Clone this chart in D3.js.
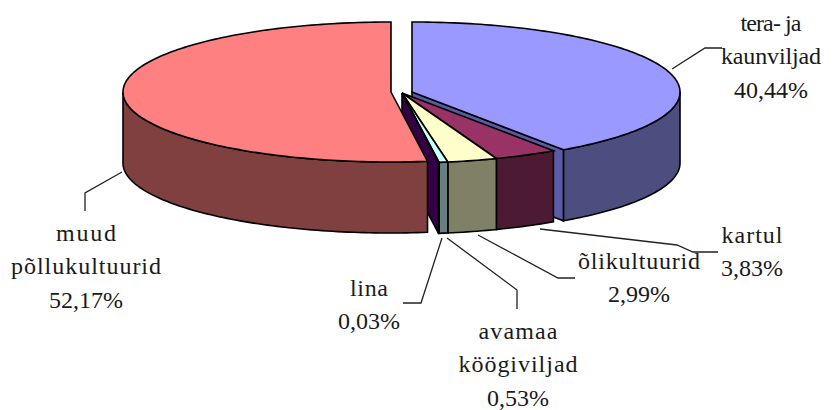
<!DOCTYPE html>
<html><head><meta charset="utf-8">
<script src="https://cdn.jsdelivr.net/npm/d3@7"></script>
<style>html,body{margin:0;padding:0;background:#fff}svg{display:block}
text{font-family:"Liberation Serif","Times New Roman",serif;font-size:24px;fill:#1a1a1a;text-anchor:middle}</style>
</head><body><svg id="c" width="835" height="410"></svg>
<script>
// data
const categories = ["tera- ja kaunviljad","kartul","õlikultuurid","avamaa köögiviljad","lina","muud põllukultuurid"];
const shares = [40.44,3.83,2.99,0.53,0.03,52.17];
const valueLabels = ["40,44%","3,83%","2,99%","0,53%","0,03%","52,17%"];
const topColors = ["#9999ff","#993366","#ffffcc","#ccffff","#330066","#ff8080"];
const sideColors = ["#4d4d80","#4d1a33","#808066","#668080","#1a0033","#804040"];
const endWallColors = ["#5a5aa6",null,null,null,"#330044",null];

// layout
const rx = 268, ry = 70, depth = 71;
const centers = [[412,92],[402,93],[402,93],[402,93],[402,93],[391,92]];
const labelLines = [["tera- ja","kaunviljad"],["kartul"],["õlikultuurid"],["avamaa","köögiviljad"],["lina"],["muud","põllukultuurid"]];
const labelWidths = [[61,100],[61],[122],[79,119],[38],[60,150]];
const labelPos = [[771,31],[752,243],[639,269],[518,339],[369,296],[86,241]];
const leaders = [
  [[672,69],[705,48],[722,48]],
  [[540,229],[677,245],[693,252],[718,252]],
  [[478,235],[558,278],[575,278]],
  [[447,238],[517,290],[517,309]],
  [[442,238],[421,303],[403,303]],
  [[122,172],[85,193],[85,211]]
];
const lineStep = 33.3;

const svg = d3.select("#c");
const pie = d3.pie().sort(null).value(d=>d).startAngle(0).endAngle(2*Math.PI);
const arcs = pie(shares);
const ux = d3.scaleLinear().domain([-1,1]).range([-rx,rx]);
const uy = d3.scaleLinear().domain([-1,1]).range([-ry,ry]);
const line = d3.line().curve(d3.curveLinear);
const px = (i,a,dz=0)=>[centers[i][0]+ux(Math.sin(a)), centers[i][1]-uy(Math.cos(a))+dz];
const rim = (a0,a1)=>{const n=Math.max(2,Math.ceil((a1-a0)/0.02));return d3.range(n+1).map(k=>a0+(a1-a0)*k/n);};
const g = svg.append("g").attr("stroke","#000").attr("stroke-width",1.6).attr("stroke-linejoin","miter");

arcs.forEach((d,i)=>{
  const c = centers[i], a0=d.startAngle, a1=d.endAngle;
  // outer wall: only the part facing the viewer (lower half of the ellipse)
  const f0=Math.max(a0,Math.PI/2), f1=Math.min(a1,3*Math.PI/2);
  if(f1>f0){
    const r=rim(f0,f1);
    const pts=[...r.map(a=>px(i,a)),...r.slice().reverse().map(a=>px(i,a,depth))];
    g.append("path").attr("d",line(pts)+"Z").attr("fill",sideColors[i]);
  }
  // radial end wall
  if(endWallColors[i]){
    const pts=[[c[0],c[1]],px(i,a1),px(i,a1,depth),[c[0],c[1]+depth]];
    g.append("path").attr("d",line(pts)+"Z").attr("fill",endWallColors[i]);
  }
  const top=[[c[0],c[1]],...rim(a0,a1).map(a=>px(i,a))];
  g.append("path").attr("d",line(top)+"Z").attr("fill",topColors[i]);
});

const lg = svg.append("g").attr("fill","none").attr("stroke","#222").attr("stroke-width",1.3);
leaders.forEach(l=>lg.append("path").attr("d",line(l)));

categories.forEach((name,i)=>{
  const t = svg.append("text");
  labelLines[i].forEach((s,k)=>{
    t.append("tspan").attr("x",labelPos[i][0]).attr("y",labelPos[i][1]+k*lineStep)
     .attr("textLength",labelWidths[i][k]).attr("lengthAdjust","spacing").text(s);
  });
  t.append("tspan").attr("x",labelPos[i][0]).attr("y",labelPos[i][1]+labelLines[i].length*lineStep).text(valueLabels[i]);
});
</script></body></html>
